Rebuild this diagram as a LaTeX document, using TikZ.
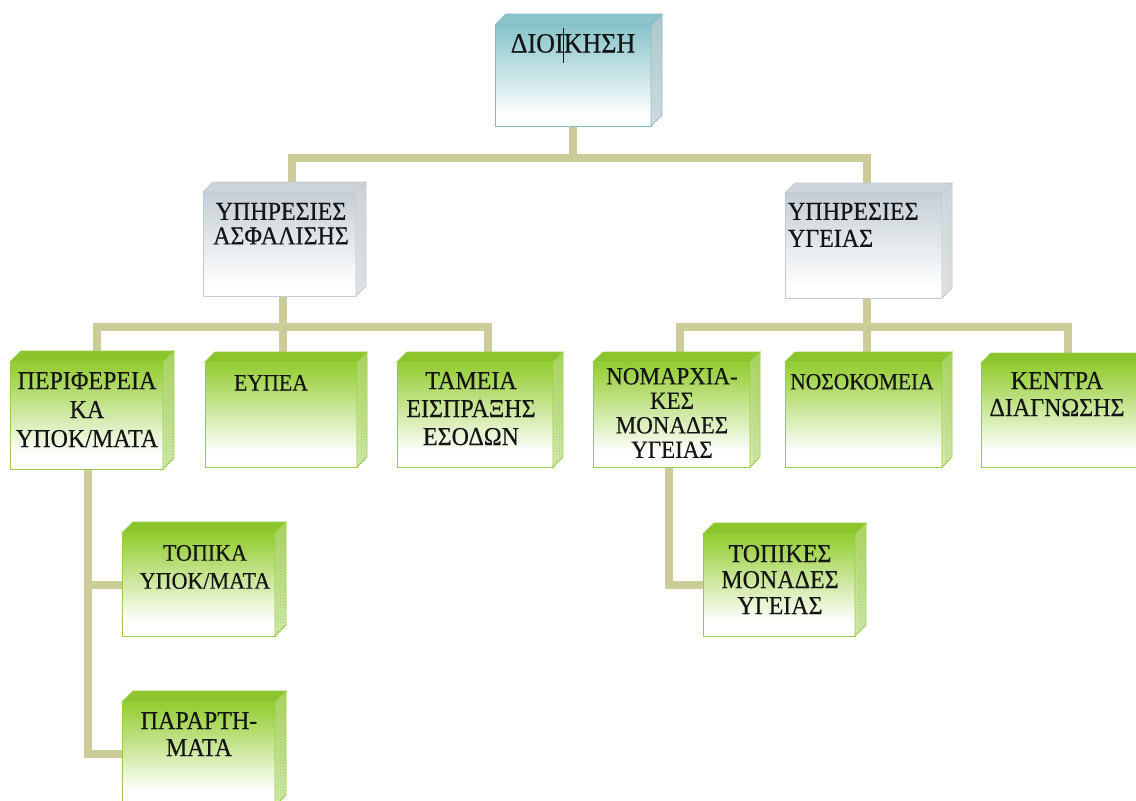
\documentclass[tikz,border=0pt]{standalone}
\usepackage{fontspec}
\setmainfont{Liberation Serif}
\newfontfamily\lblfont{Liberation Serif}[FakeStretch=0.93, FakeBold=0.35]
\usetikzlibrary{patterns}

% connectors live on a layer underneath the blocks
\pgfdeclarelayer{back}
\pgfsetlayers{back,main}

% palette
\definecolor{conncol}{RGB}{204,204,153}
\definecolor{gTop}{RGB}{146,204,46}
\definecolor{gLid}{RGB}{140,196,44}
\definecolor{gSideTop}{RGB}{168,214,88}
\definecolor{gSideBot}{RGB}{214,236,176}
\definecolor{gEdge}{RGB}{150,205,70}
\definecolor{bTop}{RGB}{136,196,202}
\definecolor{bLid}{RGB}{138,196,200}
\definecolor{bSideTop}{RGB}{170,200,204}
\definecolor{bSideBot}{RGB}{210,222,224}
\definecolor{bEdge}{RGB}{130,190,196}
\definecolor{sTop}{RGB}{196,206,213}
\definecolor{sLid}{RGB}{204,212,218}
\definecolor{sSideTop}{RGB}{208,214,218}
\definecolor{sSideBot}{RGB}{226,230,232}
\definecolor{sEdge}{RGB}{192,202,208}

% front-face fades: strong colour at the top, white towards the bottom
\pgfdeclareverticalshading{gfront}{100bp}{color(0bp)=(white); color(32bp)=(white); color(75bp)=(gTop); color(100bp)=(gTop)}
\pgfdeclareverticalshading{bfront}{100bp}{color(0bp)=(white); color(30bp)=(white); color(75bp)=(bTop); color(100bp)=(bTop)}
\pgfdeclareverticalshading{sfront}{100bp}{color(0bp)=(white); color(30bp)=(white); color(75bp)=(sTop); color(100bp)=(sTop)}

\tikzset{
  conn/.style={draw=conncol, line width=8pt, line join=miter, line cap=rect},
  gfrontface/.style={shade, shading=gfront, draw=gEdge, line width=1pt, outer sep=0pt, inner sep=0pt},
  bfrontface/.style={shade, shading=bfront, draw=bEdge, line width=1pt, outer sep=0pt, inner sep=0pt},
  sfrontface/.style={shade, shading=sfront, draw=sEdge, line width=1pt, outer sep=0pt, inner sep=0pt},
  glid/.style={fill=gLid, draw=gEdge, line width=0.8pt},
  blid/.style={fill=bLid, draw=bEdge, line width=0.8pt},
  slid/.style={fill=sLid, draw=sEdge, line width=0.8pt},
  gside/.style={top color=gSideTop, bottom color=gSideBot, draw=gEdge, line width=0.8pt},
  bside/.style={top color=bSideTop, bottom color=bSideBot, draw=bEdge, line width=0.8pt},
  sside/.style={top color=sSideTop, bottom color=sSideBot, draw=sEdge, line width=0.8pt},
  gdots/.style={pattern=crosshatch dots, pattern color=gEdge!70!black!60},
  bdots/.style={pattern=crosshatch dots, pattern color=bEdge!60!black!40},
  sdots/.style={pattern=crosshatch dots, pattern color=sEdge!60!black!40},
  lbl/.style={inner sep=0pt, outer sep=0pt, align=center, text=black!92,
              font=\lblfont\fontsize{25.8}{28}\selectfont},
}

% \slab{name}{colour key}{x1}{y1}{x2}{y2}{depth} : a bevelled block,
% front face from (x1,y1) to (x2,y2), lid and right side set back by depth
\newcommand{\slab}[7]{%
  \pgfmathsetmacro\slabcx{(#3+#5)/2}%
  \pgfmathsetmacro\slabcy{(#4+#6)/2}%
  \pgfmathsetmacro\slabw{#5-#3}%
  \pgfmathsetmacro\slabh{#6-#4}%
  \node[#2frontface, minimum width=\slabw pt, minimum height=\slabh pt] (#1) at (\slabcx,\slabcy) {};
  \path[#2lid] (#1.north west) -- ++(#7,-#7) -- ([shift={(#7,-#7)}]#1.north east) -- (#1.north east) -- cycle;
  \path[#2side] (#1.north east) -- ++(#7,-#7) -- ([shift={(#7,-#7)}]#1.south east) -- (#1.south east) -- cycle;
  \path[#2dots] ([shift={(2,-1)}]#1.north east) -- ++(#7-3,-#7+3) -- ([shift={(#7-1,-#7+2)}]#1.south east) -- ([shift={(2,-1)}]#1.south east) -- cycle;
}

\begin{document}
\begin{tikzpicture}[x=1pt, y=-1pt]
\useasboundingbox (0,0) rectangle (1136,801);
\begin{pgfonlayer}{back}
\fill[white] (0,0) rectangle (1136,801);
\end{pgfonlayer}
\clip (0,0) rectangle (1136,801);

% blocks
\slab{dioik}{b}{495}{25}{651}{126}{11}
\slab{asfal}{s}{203}{192}{356}{296}{10}
\slab{ygeia}{s}{785}{193}{942}{298}{10}
\slab{perif}{g}{10}{362}{163}{469}{11}
\slab{eypea}{g}{205}{362}{357}{467}{10}
\slab{tameia}{g}{397}{362}{553}{467}{10}
\slab{nomar}{g}{593}{362}{750}{467}{10}
\slab{nosok}{g}{785}{362}{942}{467}{10}
\slab{kentra}{g}{981}{363}{1137}{467}{10}
\slab{topika}{g}{122}{533}{275}{636}{11}
\slab{parart}{g}{122}{702}{275}{806}{11}
\slab{topikes}{g}{703}{534}{855}{636}{11}

% junction points of the connector tree
\coordinate (busAl) at (292,158);
\coordinate (busAr) at (867,158);
\coordinate (busB) at (283,327);
\coordinate (busBl) at (97,327);
\coordinate (busBr) at (488,327);
\coordinate (busC) at (867,327);
\coordinate (busCl) at (680,327);
\coordinate (busCr) at (1068,327);
\coordinate (stemL) at (88,0);
\coordinate (stemR) at (669,0);

% connectors, underneath the blocks
\begin{pgfonlayer}{back}
\draw[conn] (dioik.south) -- (dioik.south |- busAl);
\draw[conn] (asfal.north -| busAl) -- (busAl) -- (busAr) -- (ygeia.north -| busAr);
\draw[conn] (asfal.south -| busB) -- (busB);
\draw[conn] (perif.north -| busBl) -- (busBl) -- (busBr) -- (tameia.north -| busBr);
\draw[conn] (busB) -- (eypea.north -| busB);
\draw[conn] (ygeia.south -| busC) -- (busC);
\draw[conn] (nomar.north -| busCl) -- (busCl) -- (busCr) -- (kentra.north -| busCr);
\draw[conn] (busC) -- (nosok.north -| busC);
\draw[conn] (perif.south -| stemL) -- (stemL |- parart.west) -- (parart.west);
\draw[conn] (stemL |- topika.west) -- (topika.west);
\draw[conn] (nomar.south -| stemR) -- (stemR |- topikes.west) -- (topikes.west);
\end{pgfonlayer}

% labels
\node[lbl, anchor=north, font=\lblfont\fontsize{28}{30}\selectfont] (tdioik) at (573,34)
  {ΔΙΟΙ\rlap{\smash{\kern-0.5pt\rule[-10pt]{0.9pt}{35pt}}}ΚΗΣΗ};
\node[lbl, anchor=north, font=\lblfont\fontsize{25.8}{24.5}\selectfont] (tasfal) at (281,203) {ΥΠΗΡΕΣΙΕΣ\\ΑΣΦΑΛΙΣΗΣ};
\node[lbl, anchor=north west, align=left, font=\lblfont\fontsize{25.8}{27}\selectfont] (tygeia) at (788,203) {ΥΠΗΡΕΣΙΕΣ\\ΥΓΕΙΑΣ};
\node[lbl, anchor=north, font=\lblfont\fontsize{25.8}{29}\selectfont] (tperif) at (87,372) {ΠΕΡΙΦΕΡΕΙΑ\\ΚΑ\\ΥΠΟΚ/ΜΑΤΑ};
\node[lbl, anchor=north, font=\lblfont\fontsize{23.5}{26}\selectfont] (teypea) at (271,375) {ΕΥΠΕΑ};
\node[lbl, anchor=north, font=\lblfont\fontsize{25.8}{28}\selectfont] (ttameia) at (471,372) {ΤΑΜΕΙΑ\\ΕΙΣΠΡΑΞΗΣ\\ΕΣΟΔΩΝ};
\node[lbl, anchor=north, font=\lblfont\fontsize{24.7}{24.5}\selectfont] (tnomar) at (672,368) {ΝΟΜΑΡΧΙΑ-\\ΚΕΣ\\ΜΟΝΑΔΕΣ\\ΥΓΕΙΑΣ};
\node[lbl, anchor=north, font=\lblfont\fontsize{23.1}{26}\selectfont] (tnosok) at (862,374) {ΝΟΣΟΚΟΜΕΙΑ};
\node[lbl, anchor=north, font=\lblfont\fontsize{25.8}{27}\selectfont] (tkentra) at (1057,372) {ΚΕΝΤΡΑ\\ΔΙΑΓΝΩΣΗΣ};
\node[lbl, anchor=north, font=\lblfont\fontsize{23.7}{28}\selectfont] (ttopika) at (205,545) {ΤΟΠΙΚΑ\\ΥΠΟΚ/ΜΑΤΑ};
\node[lbl, anchor=north, font=\lblfont\fontsize{25.8}{27}\selectfont] (tparart) at (199,712) {ΠΑΡΑΡΤΗ-\\ΜΑΤΑ};
\node[lbl, anchor=north, font=\lblfont\fontsize{25.8}{26}\selectfont] (ttopikes) at (780,545) {ΤΟΠΙΚΕΣ\\ΜΟΝΑΔΕΣ\\ΥΓΕΙΑΣ};
\end{tikzpicture}
\end{document}
